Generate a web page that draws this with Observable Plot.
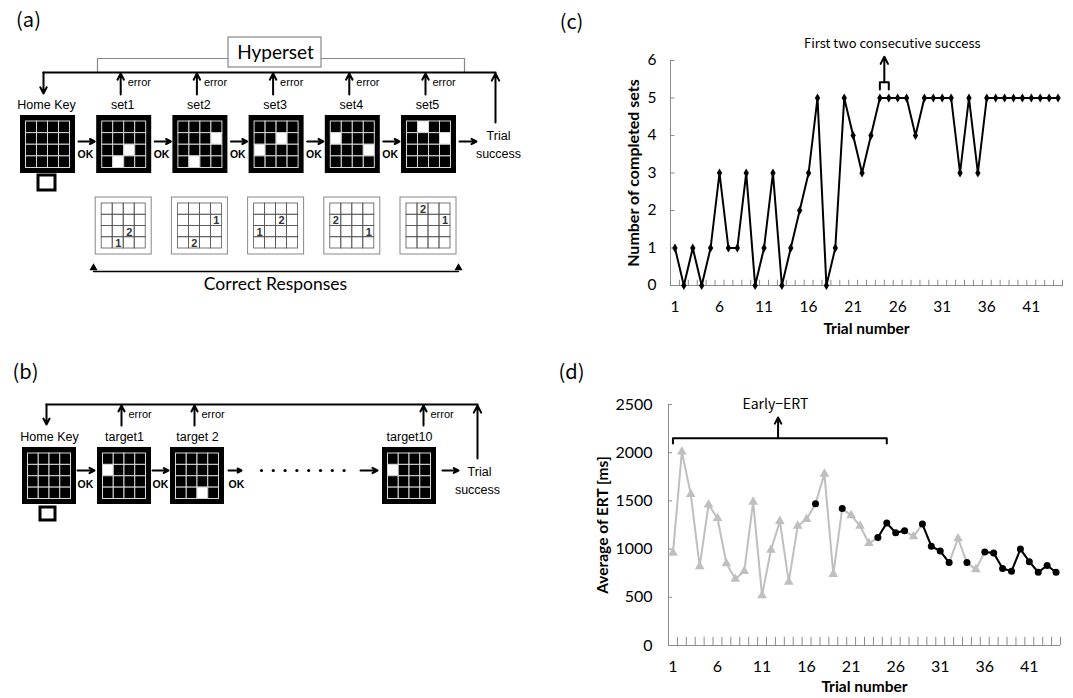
<!DOCTYPE html>
<html><head><meta charset="utf-8">
<script src="https://cdn.jsdelivr.net/npm/d3@7"></script>
<script src="https://cdn.jsdelivr.net/npm/@observablehq/plot@0.6"></script>
<style>
body{margin:0;background:#fff;}
#root{position:relative;width:1073px;height:698px;overflow:hidden;background:#fff;}
</style></head><body><div id="root"></div>
<script>
// ---------------- data ----------------
const completedSets = [1,0,1,0,1,3,1,1,3,0,1,3,0,1,2,3,5,0,1,5,4,3,4,5,5,5,5,4,5,5,5,5,3,5,3,5,5,5,5,5,5,5,5,5];
const ertMs = [960,2010,1570,820,1460,1320,850,690,770,1490,520,990,1290,660,1240,1310,1470,1780,740,1420,1350,1240,1060,1120,1270,1170,1190,1130,1260,1030,980,860,1110,860,790,970,960,800,770,1000,870,760,830,760];
const trialTickLabels = [1,6,11,16,21,26,31,36,41];
const setCountTicks = [0,1,2,3,4,5,6];
const ertTicks = [0,500,1000,1500,2000,2500];
const maxSets = 5;
const firstSuccessPair = [24,25];
const earlyErtRange = [1,25];
const panelLabels = ["(a)","(b)","(c)","(d)"];

const hypersetLabels = ["Home Key","set1","set2","set3","set4","set5"];
// correct responses per set: [row, col, order]
const correctResponses = [
  [[3,1,"1"],[2,2,"2"]],
  [[1,3,"1"],[3,1,"2"]],
  [[2,0,"1"],[1,2,"2"]],
  [[2,3,"1"],[1,0,"2"]],
  [[1,3,"1"],[0,1,"2"]]
];
const targetLabels = ["Home Key","target1","target 2","target10"];
const targetWhite = [[], [[1,0]], [[3,2]], [[1,0]]];

// ---------------- helpers ----------------
const root = document.getElementById("root");
function place(svg, left, top){ svg.style.position="absolute"; svg.style.left=left+"px"; svg.style.top=top+"px"; root.appendChild(svg); }

function gridFrame(x0,y0,w,h){ return {x1:x0,x2:x0+w,y1:y0,y2:y0+h}; }
function gridCells(x0,y0,w,h,whites){
  const inx=5.5, iny=6, cw=(w-2*inx)/4, ch=(h-2*iny+0.5)/4, out=[];
  for(let r=0;r<4;r++)for(let c=0;c<4;c++)
    out.push({x1:x0+inx+c*cw,x2:x0+inx+(c+1)*cw,y1:y0+iny+r*ch,y2:y0+iny+(r+1)*ch,
      white:whites.some(([wr,wc])=>wr===r&&wc===c)});
  return out;
}

// ---------------- diagram layout ----------------
const GW=55, GH=58;
const aX = hypersetLabels.map((_,i)=>20+i*76.2), aY=115;
const bX = [22,97,170,382], bY=447;

const frames=[], cells=[], respBoxes=[], respCells=[], respNums=[], arrows=[], labels=[], errTexts=[], okTexts=[], thinLines=[], thickLines=[];

// panel (a)
aX.forEach((x0,i)=>{
  frames.push(gridFrame(x0,aY,GW,GH));
  const whites = i===0?[]:correctResponses[i-1].map(([r,c])=>[r,c]);
  cells.push(...gridCells(x0,aY,GW,GH,whites));
  labels.push({x:x0+26,y:104,t:hypersetLabels[i]});
  if(i===0) arrows.push({x1:x0+23,y1:72,x2:x0+23,y2:93});
  else { arrows.push({x1:x0+24,y1:94,x2:x0+24,y2:73}); errTexts.push({x:x0+31,y:82}); }
  const nx = i<aX.length-1 ? aX[i+1]-2 : x0+GW+20;
  arrows.push({x1:x0+GW+3,y1:141,x2:nx,y2:141});
  if(i<aX.length-1) okTexts.push({x:x0+GW+2,y:154});
});
arrows.push({x1:495,y1:122,x2:495,y2:73});
labels.push({x:498,y:135,t:"Trial"},{x:498,y:153,t:"success"});
thickLines.push([[43,72],[495,72]]);
thinLines.push([[228,58],[97,58],[97,71]],[[321,58],[464,58],[464,71]]);
correctResponses.forEach((resp,i)=>{
  const x0=aX[i+1]-1, y0=197, w=56, h=57;
  respBoxes.push({x1:x0,x2:x0+w,y1:y0,y2:y0+h});
  const inx=6, iny=6, cw=(w-2*inx)/4, ch=(h-2*iny)/4;
  for(let r=0;r<4;r++)for(let c=0;c<4;c++) respCells.push({x1:x0+inx+c*cw,x2:x0+inx+(c+1)*cw,y1:y0+iny+r*ch,y2:y0+iny+(r+1)*ch});
  resp.forEach(([r,c,n])=>respNums.push({x:x0+inx+(c+0.5)*cw,y:y0+iny+(r+0.5)*ch+0.5,t:n}));
});
const respBracket=[[93,271],[458,271]];

// panel (b)
bX.forEach((x0,i)=>{
  frames.push(gridFrame(x0,bY,54,57));
  cells.push(...gridCells(x0,bY,54,57,targetWhite[i]));
  labels.push({x:x0+27,y:436,t:targetLabels[i]});
  if(i===0) arrows.push({x1:x0+24,y1:404,x2:x0+24,y2:424});
  else { const ax = i===3? x0+41 : x0+24; arrows.push({x1:ax,y1:425,x2:ax,y2:405}); errTexts.push({x:ax+7,y:414}); }
});
[[77,94],[152,168],[228,241]].forEach(([a,b])=>{arrows.push({x1:a,y1:470,x2:b,y2:470}); okTexts.push({x:a,y:484});});
arrows.push({x1:360,y1:470,x2:377,y2:470},{x1:442,y1:470,x2:458,y2:470},{x1:477,y1:458,x2:477,y2:405});
labels.push({x:479,y:471,t:"Trial"},{x:477,y:489,t:"success"});
thickLines.push([[46,404],[477,404]]);
const ellipsis = d3.range(8).map(i=>({x:261+i*11.8,y:470}));
const homeButtons=[{x1:38,x2:55,y1:175,y2:190},{x1:40,x2:55,y1:507,y2:520}];

const diag = Plot.plot({
  width:590, height:698, margin:0,
  x:{type:"linear",domain:[0,590],range:[0,590],axis:null},
  y:{type:"linear",domain:[0,698],range:[0,698],axis:null},
  style:{fontFamily:"Liberation Sans, Arial, sans-serif",fontSize:"12px",color:"black",background:"white"},
  marks:[
    ...thinLines.map(l=>Plot.line(l,{stroke:"#888",strokeWidth:1.2})),
    Plot.rect([{x1:228,x2:321,y1:37,y2:67}],{x1:"x1",x2:"x2",y1:"y1",y2:"y2",fill:"white",stroke:"#888",strokeWidth:1.2}),
    Plot.text(["Hyperset"],{x:275,y:52,fontFamily:"Lato",fontSize:19}),
    ...thickLines.map(l=>Plot.line(l,{stroke:"black",strokeWidth:2.2})),
    Plot.rect(frames,{x1:"x1",x2:"x2",y1:"y1",y2:"y2",fill:"black"}),
    Plot.rect(cells,{x1:"x1",x2:"x2",y1:"y1",y2:"y2",fill:d=>d.white?"white":"black",stroke:"#d8d8d8",strokeWidth:1}),
    Plot.rect(homeButtons,{x1:"x1",x2:"x2",y1:"y1",y2:"y2",fill:"white",stroke:"black",strokeWidth:3}),
    Plot.rect(respBoxes,{x1:"x1",x2:"x2",y1:"y1",y2:"y2",fill:"white",stroke:"#888",strokeWidth:1}),
    Plot.rect(respCells,{x1:"x1",x2:"x2",y1:"y1",y2:"y2",fill:"none",stroke:"#555",strokeWidth:0.8}),
    Plot.text(respNums,{x:"x",y:"y",text:"t",fontSize:11,fontWeight:"bold",fill:"#333"}),
    Plot.line(respBracket,{stroke:"black",strokeWidth:1.3}),
    Plot.dot(respBracket,{x:d=>d[0],y:d=>d[1]-3.5,symbol:"triangle",r:3,fill:"black"}),
    Plot.text(["Correct Responses"],{x:275,y:284,fontFamily:"Lato",fontSize:17.5}),
    Plot.arrow(arrows,{x1:"x1",y1:"y1",x2:"x2",y2:"y2",stroke:"black",strokeWidth:2,headLength:6,headAngle:55}),
    Plot.dot(ellipsis,{x:"x",y:"y",r:1.6,fill:"black"}),
    Plot.text(labels,{x:"x",y:"y",text:"t",fontSize:12.5}),
    Plot.text(errTexts,{x:"x",y:"y",text:()=>"error",fontSize:11,textAnchor:"start"}),
    Plot.text(okTexts,{x:"x",y:"y",text:()=>"OK",fontSize:10.5,fontWeight:"bold",textAnchor:"start"}),
    Plot.text(panelLabels,{x:(d,i)=>[28,25,571,571][i],y:(d,i)=>[20,372,22,372][i],fontFamily:"Noto Sans CJK JP",fontSize:20})
  ]
});
place(diag,0,0);

// ---------------- charts ----------------
const trialData = completedSets.map((v,i)=>({trial:i+1,sets:v,ert:ertMs[i],success:v===maxSets}));
const boundaries = trialData.map(d=>d.trial-0.5).concat([trialData.length+0.5]);
const axisColor="#8c8c8c";
const fmt = d=>String(d);

const cPlot = Plot.plot({
  width:483,height:345,marginLeft:80,marginRight:11,marginTop:60,marginBottom:60,
  style:{fontFamily:"Lato",fontSize:"15px",color:"black",background:"transparent",overflow:"visible"},
  x:{domain:[0.5,44.5]}, y:{domain:[0,6]},
  marks:[
    Plot.ruleX(boundaries,{y1:-0.03,y2:0.14,stroke:axisColor}),
    Plot.ruleY(setCountTicks,{x1:0.5,x2:1.0,stroke:axisColor}),
    Plot.ruleX([0.5],{stroke:axisColor}), Plot.ruleY([0],{stroke:axisColor}),
    Plot.axisX({ticks:trialTickLabels,tickFormat:fmt,tickSize:0,tickPadding:15,label:null,fontSize:15.5}),
    Plot.axisY({ticks:setCountTicks,tickFormat:fmt,tickSize:0,tickPadding:14,label:null,fontSize:15.5}),
    Plot.text(["Trial number"],{frameAnchor:"bottom",lineAnchor:"middle",dy:44,fontWeight:"bold",fontSize:15.5}),
    Plot.text(["Number of completed sets"],{frameAnchor:"left",textAnchor:"middle",lineAnchor:"middle",rotate:-90,dx:-37,fontWeight:"bold",fontSize:16}),
    Plot.line(trialData,{x:"trial",y:"sets",stroke:"black",strokeWidth:2}),
    Plot.dot(trialData,{x:"trial",y:"sets",symbol:"diamond",r:2.8,fill:"black"}),
    Plot.line([[firstSuccessPair[0],5.23],[firstSuccessPair[0],5.42],[firstSuccessPair[1],5.42],[firstSuccessPair[1],5.23]],{stroke:"black",strokeWidth:2}),
    Plot.arrow([0],{x1:d3.mean(firstSuccessPair),y1:5.42,x2:d3.mean(firstSuccessPair),y2:6.1,stroke:"black",strokeWidth:2,headLength:6,headAngle:55}),
    Plot.text(["First two consecutive success"],{x:25.4,y:6.45,fontFamily:"Noto Sans CJK JP",fontSize:13})
  ]
});
place(cPlot,590,0);

const successLinks = trialData.slice(0,-1).map((d,i)=>[d,trialData[i+1]]).filter(([a,b])=>a.success&&b.success);
const dPlot = Plot.plot({
  width:483,height:318,marginLeft:78,marginRight:13,marginTop:24,marginBottom:53,
  style:{fontFamily:"Lato",fontSize:"16px",color:"black",background:"transparent",overflow:"visible"},
  x:{domain:[0.5,44.5]}, y:{domain:[0,2500]},
  marks:[
    Plot.ruleX(boundaries,{y1:0,y2:85,stroke:axisColor}),
    Plot.ruleY(ertTicks,{x1:0.5,x2:0.95,stroke:axisColor}),
    Plot.ruleX([0.5],{stroke:axisColor}), Plot.ruleY([0],{stroke:axisColor}),
    Plot.axisX({ticks:trialTickLabels,tickFormat:fmt,tickSize:0,tickPadding:15,label:null,fontSize:16}),
    Plot.axisY({ticks:ertTicks,tickFormat:fmt,tickSize:0,tickPadding:16,label:null,fontSize:16}),
    Plot.text(["Trial number"],{frameAnchor:"bottom",lineAnchor:"middle",dy:42,fontWeight:"bold",fontSize:15.5}),
    Plot.text(["Average of ERT [ms]"],{frameAnchor:"left",textAnchor:"middle",lineAnchor:"middle",rotate:-90,dx:-65,fontWeight:"bold",fontSize:15.5}),
    Plot.line(trialData,{x:"trial",y:"ert",stroke:"#bfbfbf",strokeWidth:2}),
    Plot.link(successLinks,{x1:d=>d[0].trial,y1:d=>d[0].ert,x2:d=>d[1].trial,y2:d=>d[1].ert,stroke:"black",strokeWidth:2}),
    Plot.dot(trialData.filter(d=>!d.success),{x:"trial",y:"ert",symbol:"triangle",r:3.6,fill:"#bfbfbf"}),
    Plot.dot(trialData.filter(d=>d.success),{x:"trial",y:"ert",symbol:"circle",r:3.5,fill:"black"}),
    Plot.line([[earlyErtRange[0],2095],[earlyErtRange[0],2150],[earlyErtRange[1],2150],[earlyErtRange[1],2095]],{stroke:"black",strokeWidth:2}),
    Plot.arrow([0],{x1:12.8,y1:2150,x2:12.8,y2:2365,stroke:"black",strokeWidth:2,headLength:6,headAngle:55}),
    Plot.text(["Early\u2212ERT"],{x:12.5,y:2500,fontFamily:"Noto Sans CJK JP",fontSize:14})
  ]
});
place(dPlot,590,380);
</script></body></html>
